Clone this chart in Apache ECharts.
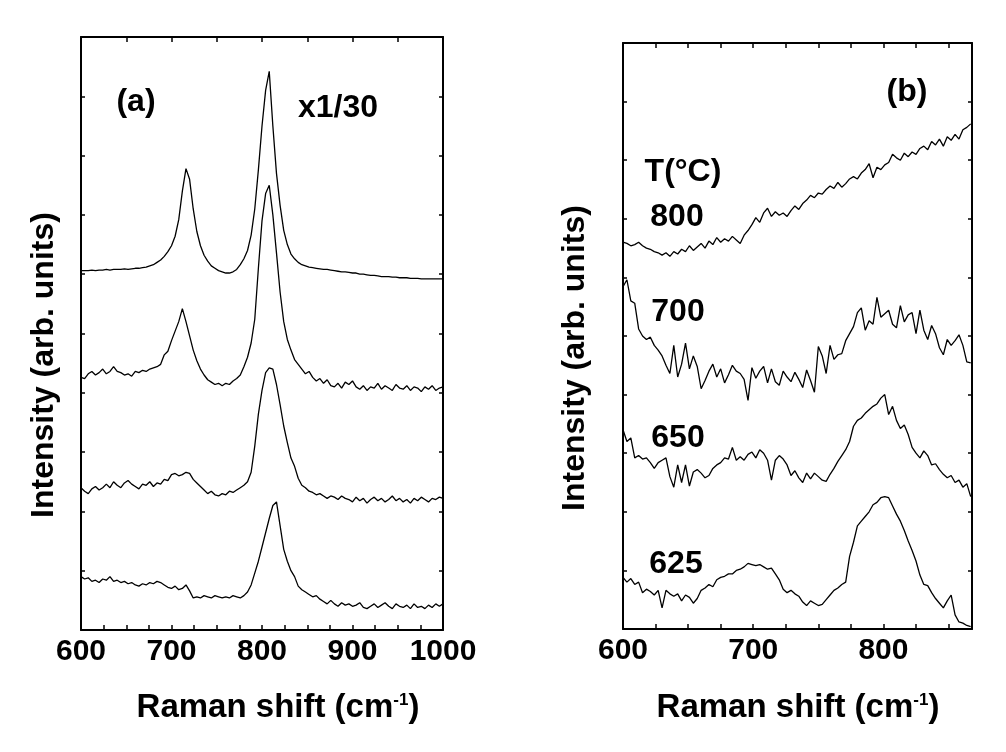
<!DOCTYPE html>
<html>
<head>
<meta charset="utf-8">
<script src="https://cdn.jsdelivr.net/npm/echarts@6/dist/echarts.min.js"></script>
<style>
html, body { margin: 0; padding: 0; background: #fff; }
#chart { width: 1006px; height: 752px; }
</style>
</head>
<body>
<div id="chart"></div>
<script>
// Raman shift sample positions (cm-1)
var shiftA = [
  600,604,608,612,616,620,624,628,632,636,
  640,644,648,652,656,660,664,668,672,676,
  680,684,688,692,696,700,704,708,712,716,
  720,724,728,732,736,740,744,748,752,756,
  760,764,768,772,776,780,784,788,792,796,
  800,804,808,812,816,820,824,828,832,836,
  840,844,848,852,856,860,864,868,872,876,
  880,884,888,892,896,900,904,908,912,916,
  920,924,928,932,936,940,944,948,952,956,
  960,964,968,972,976,980,984,988,992,996,
  1000
];
var shiftB = [
  600,603,606,609,612,615,618,621,624,627,
  630,633,636,639,642,645,648,651,654,657,
  660,663,666,669,672,675,678,681,684,687,
  690,693,696,699,702,705,708,711,714,717,
  720,723,726,729,732,735,738,741,744,747,
  750,753,756,759,762,765,768,771,774,777,
  780,783,786,789,792,795,798,801,804,807,
  810,813,816,819,822,825,828,831,834,837,
  840,843,846,849,852,855,858,861,864,867
];

// panel (a): stacked spectra, top (x1/30) to bottom
var specA1 = [
  3.03,3.03,3.03,3.035,3.03,3.035,3.035,3.04,3.035,3.04,
  3.04,3.04,3.045,3.04,3.045,3.05,3.05,3.055,3.06,3.07,
  3.08,3.10,3.12,3.15,3.19,3.24,3.32,3.46,3.70,3.89,
  3.80,3.55,3.36,3.24,3.16,3.11,3.07,3.05,3.03,3.02,
  3.01,3.01,3.02,3.04,3.08,3.13,3.20,3.33,3.55,3.88,
  4.25,4.55,4.71,4.25,3.85,3.58,3.37,3.25,3.17,3.13,
  3.10,3.08,3.07,3.06,3.055,3.05,3.045,3.04,3.04,3.035,
  3.03,3.025,3.02,3.02,3.015,3.01,3.01,3.0,3.0,2.995,
  2.99,2.99,2.985,2.98,2.98,2.98,2.975,2.975,2.97,2.97,
  2.97,2.965,2.965,2.965,2.96,2.96,2.96,2.96,2.96,2.96,
  2.96
];
var specA2 = [
  2.13,2.12,2.16,2.18,2.15,2.17,2.20,2.16,2.18,2.22,
  2.18,2.17,2.15,2.16,2.14,2.18,2.17,2.19,2.18,2.20,
  2.21,2.22,2.24,2.32,2.35,2.44,2.52,2.60,2.71,2.60,
  2.48,2.36,2.27,2.20,2.15,2.11,2.09,2.07,2.08,2.06,
  2.08,2.07,2.10,2.12,2.15,2.22,2.30,2.42,2.62,3.05,
  3.45,3.68,3.75,3.50,3.18,2.85,2.60,2.45,2.36,2.28,
  2.24,2.20,2.16,2.18,2.13,2.10,2.12,2.08,2.11,2.06,
  2.05,2.08,2.04,2.09,2.07,2.10,2.05,2.03,2.06,2.02,
  2.05,2.04,2.08,2.03,2.06,2.04,2.02,2.07,2.04,2.03,
  2.06,2.02,2.05,2.04,2.01,2.05,2.03,2.06,2.02,2.04,
  2.05
];
var specA3 = [
  1.20,1.17,1.15,1.19,1.21,1.18,1.20,1.23,1.20,1.25,
  1.22,1.20,1.24,1.26,1.23,1.21,1.19,1.23,1.22,1.25,
  1.21,1.24,1.23,1.27,1.26,1.31,1.32,1.30,1.31,1.33,
  1.32,1.27,1.24,1.21,1.18,1.15,1.17,1.14,1.13,1.15,
  1.14,1.17,1.16,1.18,1.20,1.22,1.25,1.33,1.55,1.82,
  2.02,2.17,2.21,2.20,2.07,1.90,1.72,1.58,1.45,1.38,
  1.28,1.22,1.20,1.17,1.16,1.14,1.15,1.13,1.11,1.13,
  1.12,1.10,1.13,1.11,1.10,1.08,1.12,1.09,1.11,1.07,
  1.10,1.12,1.09,1.11,1.08,1.10,1.13,1.09,1.11,1.08,
  1.10,1.07,1.11,1.09,1.12,1.10,1.08,1.11,1.10,1.12,
  1.11
];
var specA4 = [
  0.45,0.43,0.44,0.41,0.42,0.40,0.43,0.42,0.45,0.41,
  0.42,0.40,0.41,0.39,0.40,0.38,0.37,0.39,0.38,0.40,
  0.39,0.41,0.40,0.38,0.36,0.35,0.37,0.34,0.35,0.38,
  0.33,0.27,0.28,0.27,0.29,0.28,0.27,0.29,0.28,0.27,
  0.28,0.27,0.29,0.28,0.27,0.29,0.32,0.38,0.48,0.58,
  0.70,0.82,0.94,1.05,1.08,0.88,0.68,0.58,0.50,0.45,
  0.37,0.34,0.32,0.30,0.28,0.29,0.26,0.24,0.22,0.25,
  0.22,0.20,0.23,0.21,0.22,0.20,0.21,0.23,0.19,0.18,
  0.20,0.22,0.19,0.21,0.23,0.20,0.18,0.22,0.20,0.19,
  0.21,0.18,0.22,0.19,0.20,0.18,0.21,0.19,0.22,0.20,
  0.22
];

// panel (b): growth temperature series
var spec800 = [
  3.30,3.29,3.27,3.28,3.30,3.27,3.25,3.24,3.22,3.21,
  3.19,3.21,3.18,3.22,3.20,3.24,3.22,3.27,3.23,3.26,
  3.29,3.25,3.31,3.28,3.34,3.30,3.33,3.31,3.35,3.32,
  3.29,3.36,3.40,3.45,3.51,3.47,3.55,3.59,3.52,3.56,
  3.53,3.55,3.52,3.57,3.61,3.58,3.63,3.66,3.70,3.68,
  3.72,3.71,3.75,3.78,3.76,3.81,3.77,3.80,3.84,3.86,
  3.84,3.89,3.92,3.97,3.85,3.94,3.92,3.96,3.98,4.05,
  4.02,4.00,4.06,4.03,4.07,4.05,4.10,4.12,4.09,4.16,
  4.13,4.18,4.12,4.20,4.17,4.22,4.18,4.26,4.28,4.31
];
var spec700 = [
  2.92,2.98,2.80,2.78,2.56,2.50,2.47,2.49,2.42,2.38,
  2.33,2.25,2.18,2.42,2.15,2.26,2.44,2.22,2.33,2.24,
  2.05,2.12,2.20,2.26,2.15,2.22,2.10,2.17,2.25,2.20,
  2.18,2.13,1.95,2.23,2.14,2.20,2.24,2.10,2.22,2.11,
  2.08,2.20,2.15,2.11,2.19,2.13,2.06,2.21,2.12,2.02,
  2.41,2.33,2.18,2.42,2.30,2.34,2.35,2.46,2.52,2.58,
  2.70,2.74,2.55,2.63,2.60,2.83,2.66,2.69,2.72,2.60,
  2.57,2.76,2.62,2.68,2.70,2.52,2.72,2.55,2.47,2.59,
  2.52,2.40,2.34,2.47,2.42,2.46,2.51,2.42,2.28,2.27
];
var spec650 = [
  1.70,1.60,1.63,1.46,1.48,1.45,1.46,1.42,1.37,1.42,
  1.44,1.46,1.30,1.21,1.40,1.25,1.40,1.22,1.34,1.36,
  1.33,1.29,1.31,1.37,1.40,1.42,1.46,1.45,1.55,1.44,
  1.47,1.44,1.49,1.51,1.46,1.53,1.50,1.44,1.27,1.44,
  1.48,1.45,1.40,1.31,1.35,1.29,1.25,1.33,1.28,1.33,
  1.30,1.27,1.26,1.32,1.37,1.43,1.48,1.53,1.60,1.73,
  1.78,1.80,1.84,1.87,1.90,1.92,1.97,2.00,1.83,1.90,
  1.78,1.71,1.74,1.66,1.55,1.50,1.46,1.52,1.48,1.40,
  1.41,1.36,1.32,1.29,1.31,1.25,1.27,1.21,1.24,1.13
];
var spec625 = [
  0.44,0.40,0.43,0.38,0.40,0.31,0.34,0.32,0.29,0.33,
  0.18,0.33,0.30,0.28,0.30,0.24,0.29,0.27,0.22,0.26,
  0.33,0.35,0.38,0.36,0.42,0.44,0.45,0.47,0.47,0.50,
  0.51,0.53,0.56,0.55,0.54,0.55,0.53,0.51,0.52,0.47,
  0.42,0.34,0.31,0.33,0.30,0.28,0.23,0.20,0.24,0.22,
  0.20,0.21,0.25,0.29,0.33,0.35,0.38,0.40,0.62,0.74,
  0.88,0.92,0.96,1.00,1.06,1.08,1.12,1.13,1.12,1.05,
  0.98,0.92,0.84,0.75,0.67,0.58,0.46,0.38,0.37,0.31,
  0.26,0.22,0.18,0.24,0.29,0.12,0.06,0.05,0.03,0.02
];

var tempLabels = ['800', '700', '650', '625'];
var xTicksA = [600, 700, 800, 900, 1000];
var xTicksB = [600, 700, 800];

var FONT = '"Liberation Sans", Arial, Helvetica, sans-serif';

function pairs(xs, ys) {
  return xs.map(function (x, i) { return [x, ys[i]]; });
}

function bottomAxis(gi, max, ticks) {
  return {
    gridIndex: gi, type: 'value', position: 'bottom', min: 600, max: max, interval: 25,
    axisLine: { show: true, onZero: false, lineStyle: { color: '#000', width: 2 } },
    axisTick: { show: true, inside: true, length: 5, lineStyle: { color: '#000', width: 1.5 } },
    splitLine: { show: false },
    axisLabel: {
      show: true, margin: 7, color: '#000', fontSize: 30, fontWeight: 'bold', fontFamily: FONT,
      showMaxLabel: true, showMinLabel: true,
      formatter: function (v) { return ticks.indexOf(v) >= 0 ? String(v) : ''; }
    }
  };
}
function topAxis(gi, max, step) {
  return {
    gridIndex: gi, type: 'value', position: 'top', min: 600, max: max, interval: step,
    axisLine: { show: true, onZero: false, lineStyle: { color: '#000', width: 2 } },
    axisTick: { show: true, inside: true, length: 5, lineStyle: { color: '#000', width: 1.5 } },
    splitLine: { show: false }, axisLabel: { show: false }
  };
}
function sideAxis(gi, pos) {
  return {
    gridIndex: gi, type: 'value', position: pos, min: 0, max: 5, interval: 0.5,
    axisLine: { show: true, onZero: false, lineStyle: { color: '#000', width: 2 } },
    axisTick: { show: true, inside: true, length: 4, lineStyle: { color: '#000', width: 1.5 } },
    splitLine: { show: false }, axisLabel: { show: false }
  };
}

function spectrum(xi, yi, xs, ys, w) {
  return {
    type: 'line', xAxisIndex: xi, yAxisIndex: yi, data: pairs(xs, ys),
    showSymbol: false, symbol: 'none', animation: false, silent: true,
    lineStyle: { color: '#000', width: w }
  };
}

function label(text, x, y, size, extra) {
  var el = {
    type: 'text', x: x, y: y, silent: true,
    style: {
      text: text, fill: '#000', font: 'bold ' + size + 'px ' + FONT,
      textAlign: 'center', textVerticalAlign: 'middle'
    }
  };
  if (extra) { for (var k in extra) el[k] = extra[k]; }
  return el;
}

function xTitle(cx) {
  return {
    type: 'text', x: cx, y: 708, silent: true,
    style: {
      text: 'Raman shift (cm{s|-1})', fill: '#000',
      font: 'bold 33px ' + FONT, textAlign: 'center', textVerticalAlign: 'middle',
      rich: { s: { fontSize: 17, fontWeight: 'bold', fontFamily: FONT, fill: '#000', verticalAlign: 'top' } }
    }
  };
}

var chart = echarts.init(document.getElementById('chart'), null, { renderer: 'canvas' });

chart.setOption({
  backgroundColor: '#fff',
  animation: false,
  grid: [
    { left: 81, top: 37, width: 362, height: 593 },
    { left: 623, top: 43, width: 349, height: 586 }
  ],
  xAxis: [
    bottomAxis(0, 1000, xTicksA),
    topAxis(0, 1000, 50),
    bottomAxis(1, 868, xTicksB),
    topAxis(1, 868, 25)
  ],
  yAxis: [
    sideAxis(0, 'left'), sideAxis(0, 'right'),
    sideAxis(1, 'left'), sideAxis(1, 'right')
  ],
  series: [
    spectrum(0, 0, shiftA, specA1, 1.3),
    spectrum(0, 0, shiftA, specA2, 1.3),
    spectrum(0, 0, shiftA, specA3, 1.3),
    spectrum(0, 0, shiftA, specA4, 1.3),
    spectrum(2, 2, shiftB, spec800, 1.3),
    spectrum(2, 2, shiftB, spec700, 1.3),
    spectrum(2, 2, shiftB, spec650, 1.3),
    spectrum(2, 2, shiftB, spec625, 1.3)
  ],
  graphic: [
    label('(a)', 136, 102, 32),
    label('x1/30', 338, 108, 32),
    label('(b)', 907, 92, 32),
    label('T(\u00B0C)', 683, 172, 32),
    label(tempLabels[0], 677, 217, 32),
    label(tempLabels[1], 678, 312, 32),
    label(tempLabels[2], 678, 438, 32),
    label(tempLabels[3], 676, 564, 32),
    label('Intensity (arb. units)', 44, 365, 32, { rotation: Math.PI / 2 }),
    label('Intensity (arb. units)', 575, 358, 32, { rotation: Math.PI / 2 }),
    xTitle(278),
    xTitle(798)
  ]
});
</script>
</body>
</html>
